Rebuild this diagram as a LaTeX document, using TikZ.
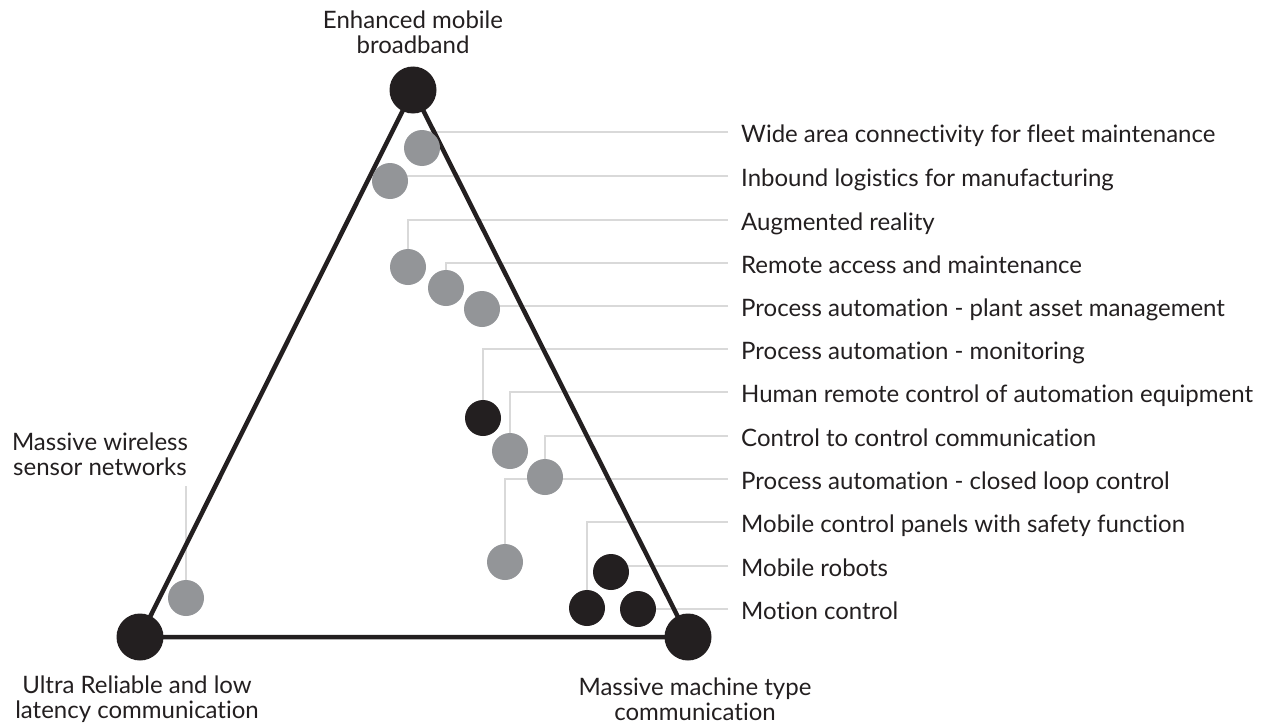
\documentclass[tikz,border=0pt]{standalone}
\usepackage{fontspec}
\setmainfont{Lato}[Ligatures=NoCommon]
\usetikzlibrary{backgrounds}
\definecolor{ink}{HTML}{231F20}
\definecolor{dot}{HTML}{939598}
\definecolor{leadgray}{HTML}{D9D9D9}

\begin{document}
\begin{tikzpicture}[x=1pt, y=-1pt,
    corner/.style={circle, fill=ink, minimum size=47pt, inner sep=0pt},
    usecase/.style={circle, fill=dot, minimum size=36pt, inner sep=0pt},
    critical/.style={usecase, fill=ink},
    caption/.style={anchor=west, inner xsep=13pt, inner ysep=0pt, text height=20pt, text depth=0pt, text=ink, font=\fontsize{24}{26}\selectfont},
    title/.style={align=center, text=ink, font=\fontsize{24}{25}\selectfont},
    leadline/.style={draw=leadgray, line width=2pt},
    edge/.style={draw=ink, line width=4.5pt}]
  \useasboundingbox (0,0) rectangle (1263,725);

  %les trois sommets
  \node [corner] (embb) at (413,90) {};
  \node [corner] (urllc) at (140,637) {};
  \node [corner] (mmtc) at (688,637) {};
  \node [title] at (413,32) {Enhanced mobile\\broadband};
  \node [title] at (137,699) {Ultra Reliable and low\\latency communication};
  \node [title] at (695,699) {Massive machine type\\communication};
  \node [title] (mwsn) at (100,454) {Massive wireless\\sensor networks};

  %les cas d'usage
  \node [usecase] (u1) at (422,148) {};
  \node [usecase] (u2) at (390,181) {};
  \node [usecase] (u3) at (408,267) {};
  \node [usecase] (u4) at (446,288) {};
  \node [usecase] (u5) at (482,309) {};
  \node [critical] (u6) at (483,418) {};
  \node [usecase] (u7) at (510,451) {};
  \node [usecase] (u8) at (545,477) {};
  \node [usecase] (u9) at (505,562) {};
  \node [critical] (u10) at (587,608) {};
  \node [critical] (u11) at (611,572) {};
  \node [critical] (u12) at (638,609) {};
  \node [usecase] (s) at (186,598) {};

  %les légendes à droite
  \node [caption] (l1) at (728,132) {Wide area connectivity for fleet maintenance};
  \node [caption] (l2) at (728,176) {Inbound logistics for manufacturing};
  \node [caption] (l3) at (728,220) {Augmented reality};
  \node [caption] (l4) at (728,263) {Remote access and maintenance};
  \node [caption] (l5) at (728,306) {Process automation - plant asset management};
  \node [caption] (l6) at (728,349) {Process automation - monitoring};
  \node [caption] (l7) at (728,392) {Human remote control of automation equipment};
  \node [caption] (l8) at (728,436) {Control to control communication};
  \node [caption] (l9) at (728,479) {Process automation - closed loop control};
  \node [caption] (l10) at (728,522) {Mobile control panels with safety function};
  \node [caption] (l11) at (728,566) {Mobile robots};
  \node [caption] (l12) at (728,609) {Motion control};
  \coordinate (mwend) at (186,486);

  \begin{scope}[on background layer]
    %traits de rappel
    \draw [leadline] (l1.west) -- (l1.west -| u1);
    \draw [leadline] (l2.west) -- (l2.west -| u2);
    \draw [leadline] (u3) |- (l3.west);
    \draw [leadline] (u4) |- (l4.west);
    \draw [leadline] (l5.west) -- (l5.west -| u5);
    \draw [leadline] (u6) |- (l6.west);
    \draw [leadline] (u7) |- (l7.west);
    \draw [leadline] (u8) |- (l8.west);
    \draw [leadline] (u9) |- (l9.west);
    \draw [leadline] (u10) |- (l10.west);
    \draw [leadline] (l11.west) -- (l11.west -| u11);
    \draw [leadline] (l12.west) -- (l12.west -| u12);
    \draw [leadline] (s) -- (mwend);

    %le triangle
    \draw [edge] (embb.center) -- (mmtc.center) -- (urllc.center) -- cycle;
  \end{scope}
\end{tikzpicture}
\end{document}
